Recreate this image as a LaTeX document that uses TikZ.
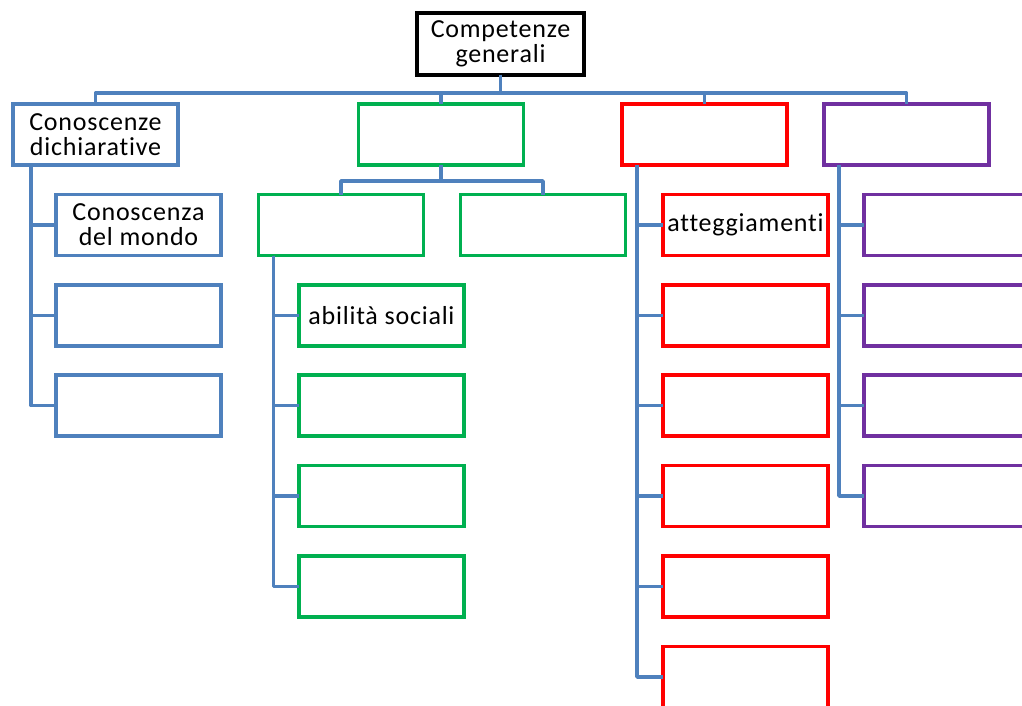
\documentclass[tikz,border=0pt]{standalone}
\usepackage{fontspec}
\setmainfont{Carlito}[Ligatures=NoCommon,LetterSpace=3]
\definecolor{cblue}{HTML}{4F81BD}
\definecolor{cgreen}{HTML}{00B050}
\definecolor{cred}{HTML}{FF0000}
\definecolor{cpurple}{HTML}{7030A0}
\begin{document}
\begin{tikzpicture}[x=1pt,y=-1pt,
  box/.style={draw,line width=3.8pt,fill=white,minimum width=165pt,minimum height=61pt,inner sep=0pt,outer sep=0pt,align=center,font=\fontsize{26}{25}\selectfont},
  bbox/.style={box,draw=cblue},
  gbox/.style={box,draw=cgreen},
  rbox/.style={box,draw=cred},
  pbox/.style={box,draw=cpurple},
  link/.style={draw=cblue,line width=3.8pt,line join=round}]
\clip (0,0) rectangle (1022,706);
\useasboundingbox (0,0) rectangle (1022,706);
\fill[white] (0,0) rectangle (1022,706);
% top
\node[box,draw=black,minimum width=167pt,minimum height=62pt] (top) at (500.5,44) {Competenze\\generali};
% level 1
\node[bbox] (b1) at (95.5,134.5) {Conoscenze\\dichiarative};
\node[gbox] (g1) at (441,134.5) {};
\node[rbox] (r1) at (704.5,134.5) {};
\node[pbox] (p1) at (906.5,134.5) {};
% blue children
\node[bbox] (b11) at (138.5,225) {Conoscenza\\del mondo};
\node[bbox] (b12) at (138.5,315.5) {};
\node[bbox] (b13) at (138.5,405.5) {};
% green level 2
\node[gbox] (g21) at (341,225) {};
\node[gbox] (g22) at (543,225) {};
% green children
\node[gbox] (g31) at (381.5,315.5) {abilità sociali};
\node[gbox] (g32) at (381.5,405.5) {};
\node[gbox] (g33) at (381.5,496) {};
\node[gbox] (g34) at (381.5,586.5) {};
% red children
\node[rbox] (r11) at (745.5,225) {atteggiamenti};
\node[rbox] (r12) at (745.5,315.5) {};
\node[rbox] (r13) at (745.5,405.5) {};
\node[rbox] (r14) at (745.5,496) {};
\node[rbox] (r15) at (745.5,586.5) {};
\node[rbox] (r16) at (745.5,677) {};
% purple children
\node[pbox] (p11) at (946.5,225) {};
\node[pbox] (p12) at (946.5,315.5) {};
\node[pbox] (p13) at (946.5,405.5) {};
\node[pbox] (p14) at (946.5,496) {};
% connectors
\coordinate (bus) at (500.5,93);
\foreach \n in {b1,g1,r1,p1}{
  \path[link] (top.south) -- (bus) -| (\n.north);
}
\coordinate (gbus) at (441,181);
\foreach \n in {g21,g22}{
  \path[link] (g1.south) -- (gbus) -| (\n.north);
}
\foreach \n in {b11,b12,b13}{
  \path[link] ([xshift=18pt]b1.south west) |- (\n.west);
}
\foreach \n in {g31,g32,g33,g34}{
  \path[link] ([xshift=15pt]g21.south west) |- (\n.west);
}
\foreach \n in {r11,r12,r13,r14,r15,r16}{
  \path[link] ([xshift=15pt]r1.south west) |- (\n.west);
}
\foreach \n in {p11,p12,p13,p14}{
  \path[link] ([xshift=15pt]p1.south west) |- (\n.west);
}
\end{tikzpicture}
\end{document}
